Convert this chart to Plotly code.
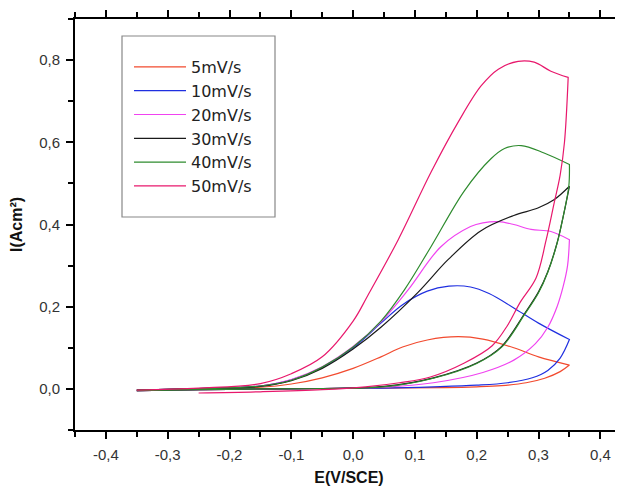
import plotly.graph_objects as go

# ---------------- data ----------------
series_names = ["5mV/s", "10mV/s", "20mV/s", "30mV/s", "40mV/s", "50mV/s"]
series_colors = ["#f24a2e", "#1f2fe0", "#f043f0", "#1a1a1a", "#2e8b2e", "#e8186c"]

# 5 mV/s
e5_fwd = [-0.35, -0.25, -0.15, -0.05, 0.05, 0.15, 0.20, 0.24, 0.28, 0.31, 0.335, 0.35]
i5_fwd = [-0.004, -0.002, 0.000, 0.001, 0.002, 0.003, 0.005, 0.008, 0.015, 0.026, 0.042, 0.058]
e5_rev = [0.35, 0.30, 0.26, 0.21, 0.17, 0.12, 0.08, 0.045, 0.0, -0.05, -0.10, -0.15, -0.25, -0.35]
i5_rev = [0.058, 0.078, 0.100, 0.121, 0.127, 0.119, 0.102, 0.078, 0.050, 0.027, 0.012, 0.004, 0.000, -0.003]

# 10 mV/s
e10_fwd = [-0.35, -0.25, -0.15, -0.05, 0.05, 0.13, 0.20, 0.25, 0.29, 0.315, 0.335, 0.35]
i10_fwd = [-0.004, -0.002, 0.000, 0.001, 0.002, 0.005, 0.009, 0.015, 0.027, 0.045, 0.075, 0.120]
e10_rev = [0.35, 0.30, 0.26, 0.22, 0.19, 0.155, 0.12, 0.08, 0.045, 0.0, -0.05, -0.10, -0.15, -0.25, -0.35]
i10_rev = [0.120, 0.160, 0.197, 0.232, 0.248, 0.250, 0.238, 0.205, 0.160, 0.100, 0.052, 0.022, 0.007, 0.001, -0.003]

# 20 mV/s
e20_fwd = [-0.35, -0.25, -0.15, -0.05, 0.05, 0.13, 0.21, 0.26, 0.295, 0.315, 0.33, 0.34, 0.347, 0.35]
i20_fwd = [-0.004, -0.002, 0.000, 0.001, 0.004, 0.015, 0.040, 0.070, 0.110, 0.150, 0.200, 0.250, 0.300, 0.363]
e20_rev = [0.35, 0.32, 0.288, 0.26, 0.235, 0.21, 0.19, 0.142, 0.089, 0.045, 0.0, -0.05, -0.10, -0.15, -0.25, -0.35]
i20_rev = [0.363, 0.383, 0.388, 0.400, 0.407, 0.404, 0.395, 0.346, 0.241, 0.163, 0.103, 0.054, 0.023, 0.007, 0.001, -0.003]

# 30 mV/s
e30_fwd = [-0.35, -0.25, -0.15, -0.05, 0.05, 0.13, 0.20, 0.24, 0.277, 0.30, 0.315, 0.33, 0.34, 0.35]
i30_fwd = [-0.004, -0.002, 0.000, 0.001, 0.006, 0.027, 0.063, 0.103, 0.182, 0.236, 0.285, 0.355, 0.420, 0.493]
e30_rev = [0.35, 0.325, 0.299, 0.26, 0.207, 0.154, 0.105, 0.045, 0.0, -0.05, -0.10, -0.15, -0.25, -0.35]
i30_rev = [0.493, 0.460, 0.440, 0.422, 0.385, 0.315, 0.235, 0.150, 0.097, 0.050, 0.020, 0.006, 0.001, -0.003]

# 40 mV/s
e40_fwd = [-0.35, -0.25, -0.15, -0.05, 0.05, 0.13, 0.20, 0.24, 0.277, 0.30, 0.315, 0.33, 0.34, 0.349, 0.35]
i40_fwd = [-0.004, -0.002, 0.000, 0.001, 0.005, 0.026, 0.062, 0.101, 0.180, 0.234, 0.284, 0.354, 0.420, 0.493, 0.546]
e40_rev = [0.35, 0.309, 0.272, 0.245, 0.223, 0.18, 0.126, 0.083, 0.045, 0.0, -0.05, -0.10, -0.15, -0.25, -0.35]
i40_rev = [0.546, 0.574, 0.592, 0.585, 0.560, 0.482, 0.346, 0.241, 0.165, 0.102, 0.053, 0.021, 0.007, 0.001, -0.003]

# 50 mV/s
e50_fwd = [-0.25, -0.15, -0.05, 0.02, 0.075, 0.125, 0.18, 0.225, 0.25, 0.27, 0.296, 0.312, 0.325, 0.335, 0.342, 0.348]
i50_fwd = [-0.010, -0.007, -0.002, 0.005, 0.015, 0.029, 0.063, 0.105, 0.155, 0.210, 0.270, 0.360, 0.450, 0.520, 0.600, 0.758]
e50_rev = [0.348, 0.32, 0.293, 0.267, 0.235, 0.207, 0.17, 0.126, 0.073, 0.024, 0.0, -0.05, -0.10, -0.15, -0.25, -0.35]
i50_rev = [0.758, 0.773, 0.795, 0.797, 0.778, 0.737, 0.649, 0.527, 0.363, 0.228, 0.165, 0.078, 0.037, 0.013, 0.002, -0.003]

x_tickvals = [-0.4, -0.3, -0.2, -0.1, 0.0, 0.1, 0.2, 0.3, 0.4]
x_ticktext = ["-0,4", "-0,3", "-0,2", "-0,1", "0,0", "0,1", "0,2", "0,3", "0,4"]
y_tickvals = [0.0, 0.2, 0.4, 0.6, 0.8]
y_ticktext = ["0,0", "0,2", "0,4", "0,6", "0,8"]

# ---------------- figure ----------------
loops = [
    (e5_fwd, i5_fwd, e5_rev, i5_rev),
    (e10_fwd, i10_fwd, e10_rev, i10_rev),
    (e20_fwd, i20_fwd, e20_rev, i20_rev),
    (e30_fwd, i30_fwd, e30_rev, i30_rev),
    (e40_fwd, i40_fwd, e40_rev, i40_rev),
    (e50_fwd, i50_fwd, e50_rev, i50_rev),
]

fig = go.Figure()
for k, (ef, jf, er, jr) in enumerate(loops):
    fig.add_trace(go.Scatter(
        x=list(ef) + list(er), y=list(jf) + list(jr),
        mode="lines", name=series_names[k],
        line=dict(color=series_colors[k], width=1.2, shape="spline", smoothing=1.0),
    ))
# empty trace so the top (mirror) axis is drawn
fig.add_trace(go.Scatter(x=[None], y=[None], xaxis="x2", showlegend=False, hoverinfo="skip"))

# the page body has an 8px default margin; the figure is sized to fill the window
W, H, OFF = 615, 481, 8
PL, PT, PB = 75 - OFF, 19 - OFF, (OFF + 481) - 430
PW = W - PL
PH = H - PT - PB

FONT = "Liberation Sans, Arial, sans-serif"
axis_font = dict(family=FONT, size=15, color="#333333")
xr = [-0.45, 0.4367]
minor_x = dict(dtick=0.05, tick0=0, ticks="outside", ticklen=5, tickwidth=1.5, tickcolor="black")

fig.update_layout(
    width=W, height=H,
    margin=dict(l=PL, r=0, t=PT, b=PB, pad=0),
    paper_bgcolor="white", plot_bgcolor="white",
    showlegend=True,
    legend=dict(
        x=(129 - 75) / PW, y=1 - (50 - 19) / PH, xanchor="left", yanchor="top",
        bgcolor="rgba(0,0,0,0)", borderwidth=0,
        font=dict(family="DejaVu Sans, Verdana, sans-serif", size=16, color="#222222"),
        itemwidth=52,
    ),
    shapes=[dict(type="rect", xref="paper", yref="paper",
                 x0=(122 - 75) / PW, x1=(275 - 75) / PW,
                 y0=(430 - 217) / PH, y1=(430 - 36) / PH,
                 line=dict(color="#888888", width=1.2), fillcolor="rgba(0,0,0,0)", layer="above")],
    xaxis2=dict(overlaying="x", side="top", range=xr, automargin=False,
                showline=True, linecolor="black", linewidth=2, showgrid=False, zeroline=False,
                ticks="outside", ticklen=7, tickwidth=2, tickcolor="black",
                tickvals=x_tickvals, showticklabels=False, minor=minor_x),
)
fig.layout.xaxis.update(
    range=xr, automargin=False, showgrid=False, zeroline=False,
    showline=True, linecolor="black", linewidth=2, mirror=False,
    ticks="outside", ticklen=7, tickwidth=2, tickcolor="black",
    tickvals=x_tickvals, ticktext=x_ticktext, tickfont=axis_font, ticklabelstandoff=3,
    minor=minor_x,
    title=dict(text="<b>E(V/SCE)</b>", font=dict(family=FONT, size=16, color="#111111"), standoff=10),
)
fig.update_yaxes(
    range=[-0.1, 0.9], automargin=False, showgrid=False, zeroline=False,
    showline=True, linecolor="black", linewidth=2, mirror=False,
    ticks="outside", ticklen=7, tickwidth=2, tickcolor="black",
    tickvals=y_tickvals, ticktext=y_ticktext, tickfont=axis_font, ticklabelstandoff=3,
    minor=dict(dtick=0.1, tick0=0, ticks="outside", ticklen=5, tickwidth=1.5, tickcolor="black"),
    title=dict(text="<b>I(Acm²)</b>", font=dict(family=FONT, size=16, color="#111111"), standoff=14),
)

fig.write_html("out.html")
